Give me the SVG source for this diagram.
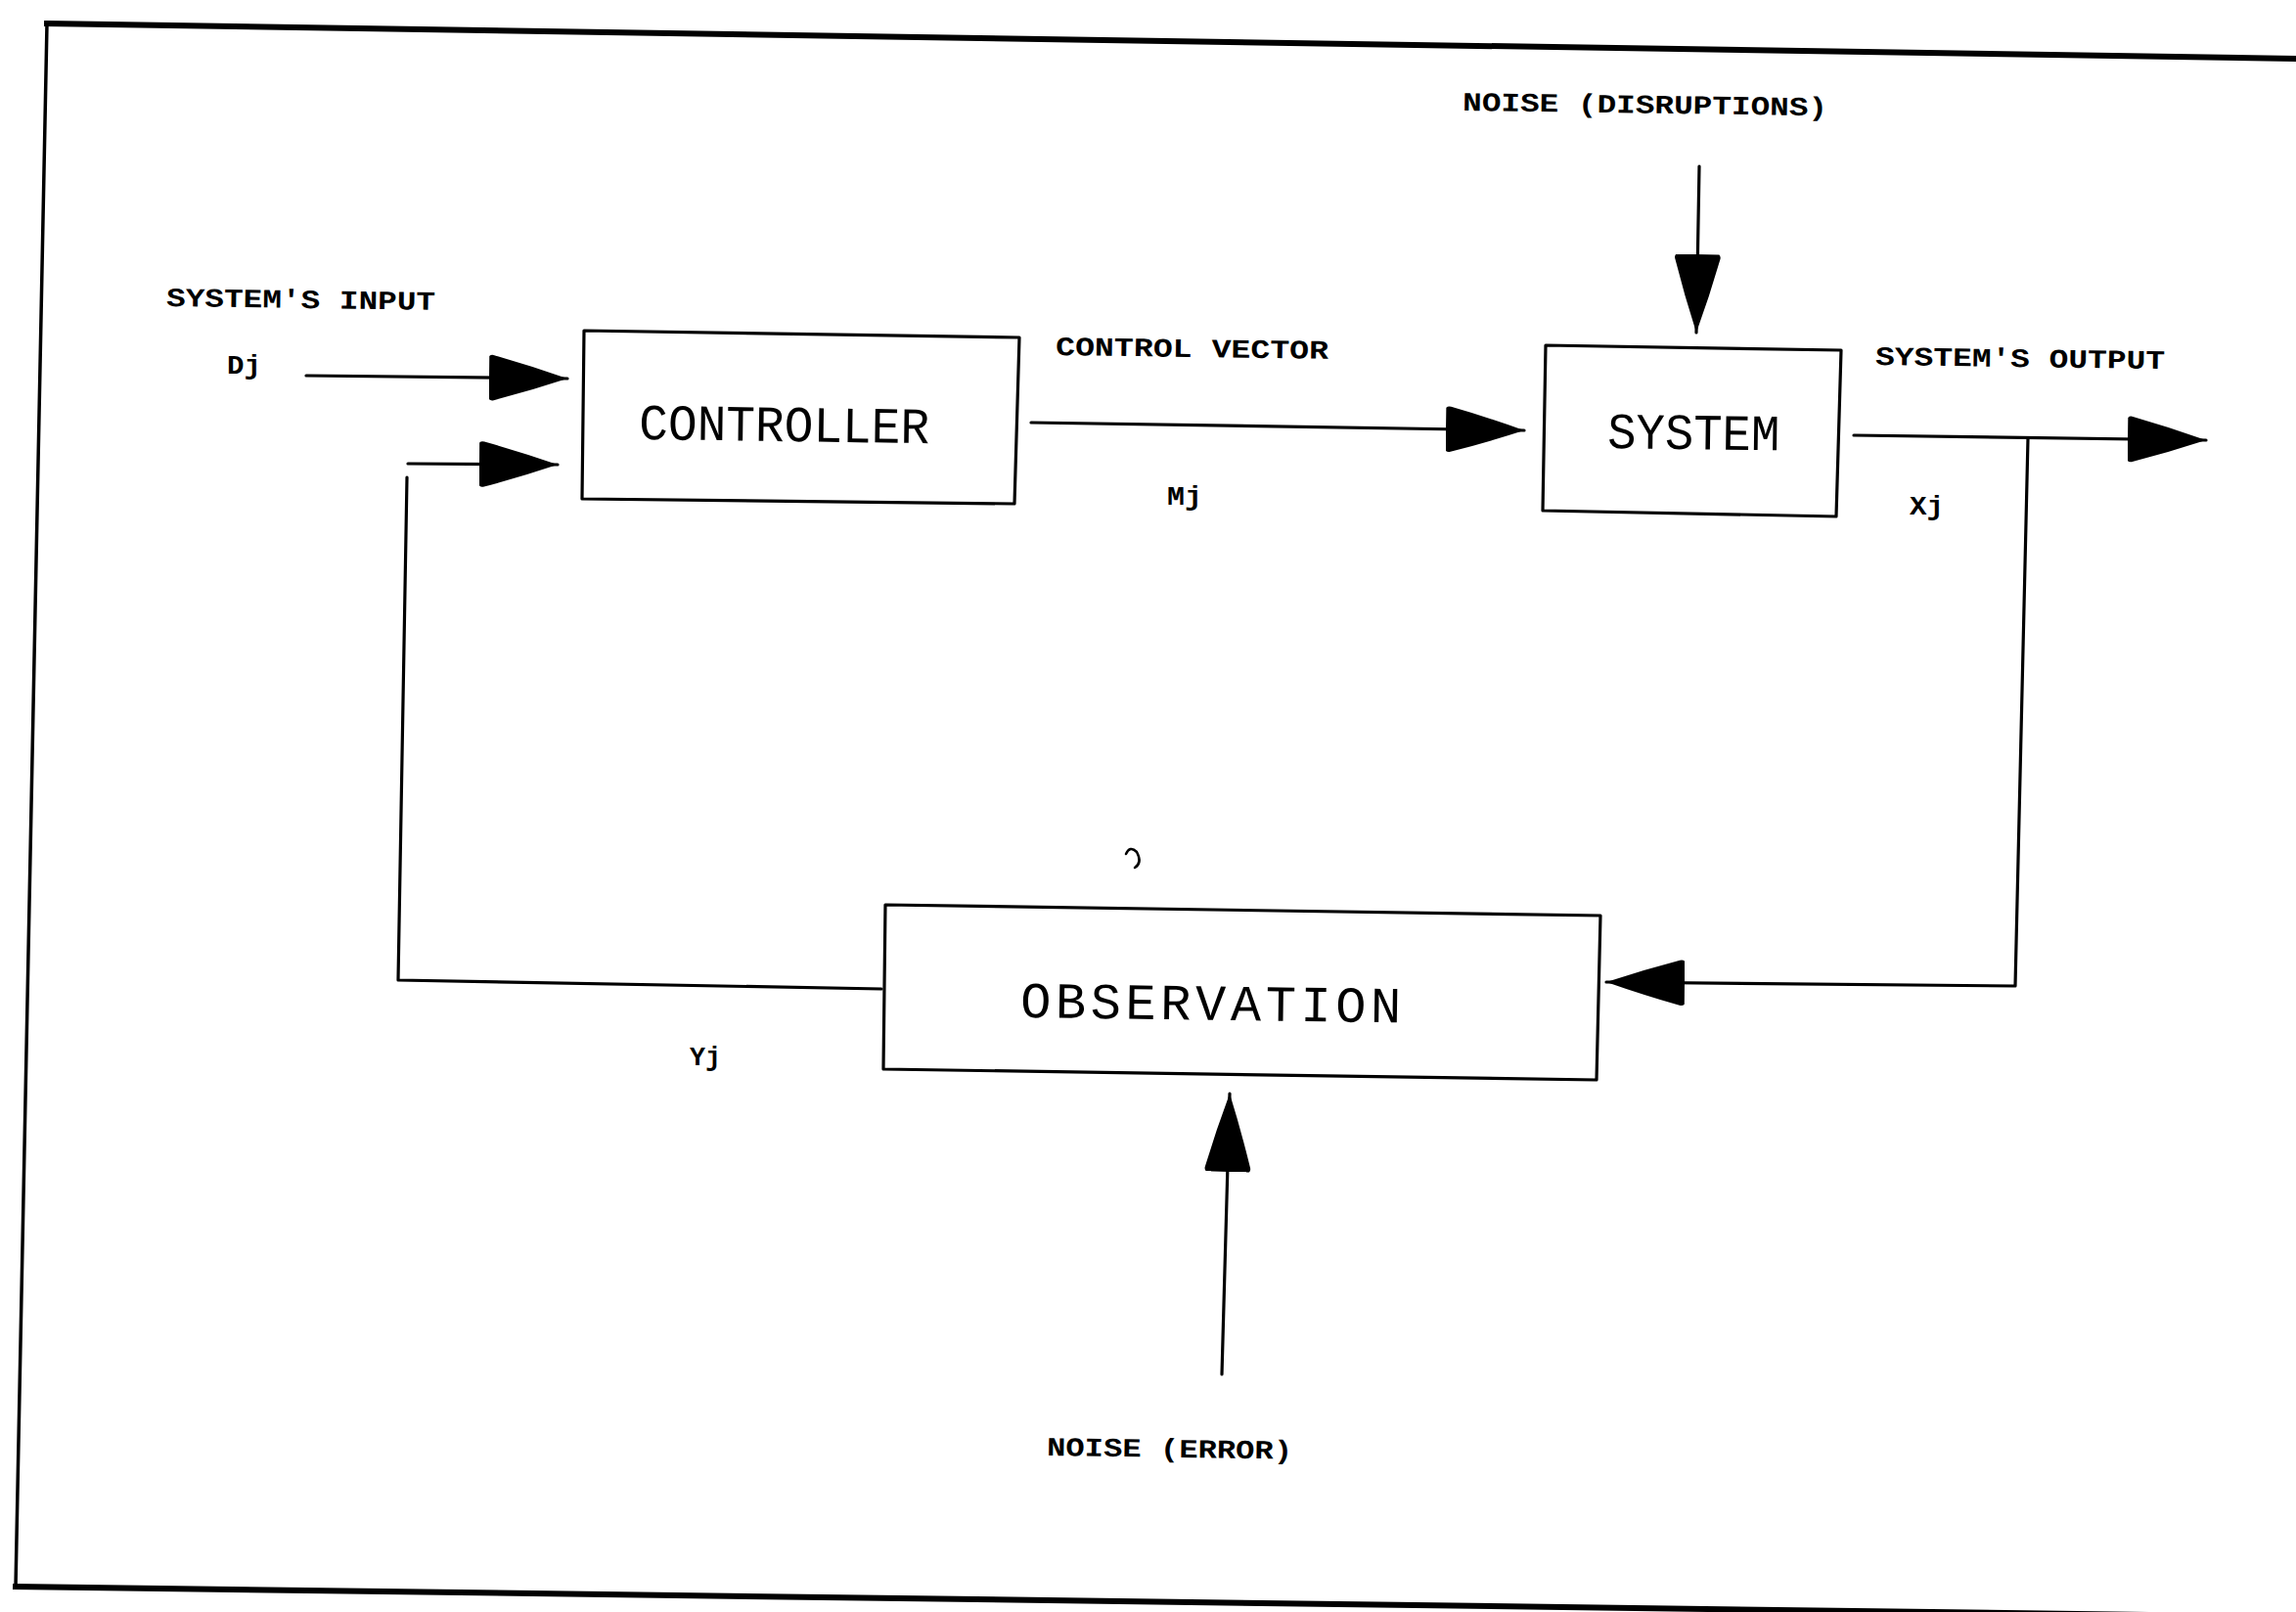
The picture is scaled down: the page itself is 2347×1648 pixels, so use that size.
<svg xmlns="http://www.w3.org/2000/svg" width="2347" height="1648" viewBox="0 0 2347 1648">
<style>
.box{fill:none;stroke:#000;stroke-width:3.2;stroke-linejoin:round}
.ln{fill:none;stroke:#000;stroke-width:3.2;stroke-linecap:round;stroke-linejoin:round}
.frame{fill:none;stroke:#000;stroke-linecap:square}
.big{font-family:"Liberation Mono","Courier New",monospace;font-size:52px;fill:#000}
.lbl{font-family:"Liberation Mono","Courier New",monospace;font-size:27px;font-weight:bold;fill:#000}
</style>
<defs>
<marker id="ah" markerUnits="userSpaceOnUse" markerWidth="82" markerHeight="48" viewBox="0 0 82 48" refX="80" refY="24" orient="auto">
<path d="M0,2 Q2,0 5,1 Q42,11 80,24 Q42,37 5,47 Q2,48 0,46 Z" fill="#000"/>
</marker>
</defs>
<rect width="2347" height="1648" fill="#fff"/>
<g id="frame">
<path class="frame" d="M48,24 L2347,60" stroke-width="6"/>
<path class="frame" d="M48,24 L16,1622" stroke-width="3.5"/>
<path class="frame" d="M16,1622 L2347,1653" stroke-width="6"/>
</g>
<g id="connectors">
<path class="ln" d="M313,384 L580,387" marker-end="url(#ah)"/>
<path class="ln" d="M901,1011 L407,1002 L416,488"/>
<path class="ln" d="M417,474 L570,475" marker-end="url(#ah)"/>
<path class="ln" d="M1054,432 L1558,440" marker-end="url(#ah)"/>
<path class="ln" d="M1737,170 L1734,340" marker-end="url(#ah)"/>
<path class="ln" d="M1895,445 L2255,450" marker-end="url(#ah)"/>
<path class="ln" d="M2073,448 L2060,1008 L1642,1004" marker-end="url(#ah)"/>
<path class="ln" d="M1249,1405 L1257,1118" marker-end="url(#ah)"/>
</g>
<g id="controller">
<path class="box" d="M597,338 L1042,345 L1037,515 L595,510 Z"/>
<text class="big" x="653" y="449" textLength="297" lengthAdjust="spacingAndGlyphs" transform="rotate(0.8 653 449)">CONTROLLER</text>
</g>
<g id="system">
<path class="box" d="M1580,353 L1882,358 L1877,528 L1577,522 Z"/>
<text class="big" x="1643" y="458" textLength="176" lengthAdjust="spacingAndGlyphs" transform="rotate(0.8 1643 458)">SYSTEM</text>
</g>
<g id="observation">
<path class="box" d="M905,925 L1636,936 L1632,1104 L903,1093 Z"/>
<text class="big" x="1043" y="1040" textLength="389" lengthAdjust="spacing" transform="rotate(0.8 1043 1040)">OBSERVATION</text>
</g>
<g id="labels">
<text class="lbl" x="170" y="313" textLength="275" lengthAdjust="spacingAndGlyphs" transform="rotate(0.8 170 313)">SYSTEM'S INPUT</text>
<text class="lbl" x="232" y="382" textLength="35" lengthAdjust="spacingAndGlyphs">Dj</text>
<text class="lbl" x="1079" y="363" textLength="279" lengthAdjust="spacingAndGlyphs" transform="rotate(0.8 1079 363)">CONTROL VECTOR</text>
<text class="lbl" x="1193" y="516" textLength="36" lengthAdjust="spacingAndGlyphs">Mj</text>
<text class="lbl" x="1495" y="113" textLength="373" lengthAdjust="spacingAndGlyphs" transform="rotate(0.8 1495 113)">NOISE (DISRUPTIONS)</text>
<text class="lbl" x="1917" y="373" textLength="296" lengthAdjust="spacingAndGlyphs" transform="rotate(0.8 1917 373)">SYSTEM'S OUTPUT</text>
<text class="lbl" x="1952" y="526" textLength="35" lengthAdjust="spacingAndGlyphs">Xj</text>
<text class="lbl" x="705" y="1089" textLength="32" lengthAdjust="spacingAndGlyphs">Yj</text>
<text class="lbl" x="1070" y="1488" textLength="251" lengthAdjust="spacingAndGlyphs" transform="rotate(0.8 1070 1488)">NOISE (ERROR)</text>
</g>
<g id="mark">
<path d="M1151,873 Q1155,864 1162,871 Q1168,882 1160,887" fill="none" stroke="#000" stroke-width="2.5" stroke-linecap="round"/>
</g>
</svg>
